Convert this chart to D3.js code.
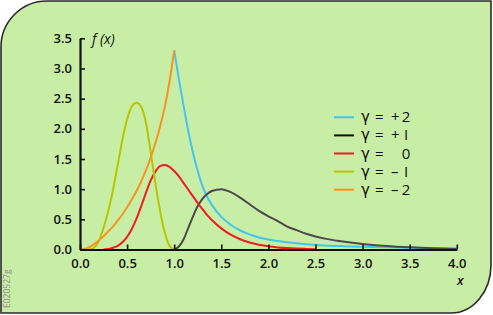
<!DOCTYPE html>
<html>
<head>
<meta charset="utf-8">
<script src="https://cdn.jsdelivr.net/npm/d3@7"></script>
<style>
  html, body { margin: 0; padding: 0; background: #fff; }
  svg { display: block; }
  text { font-family: 'Open Sans', 'Noto Sans', sans-serif; fill: #111; }
</style>
</head>
<body>
<div id="chart"></div>
<script>
// curve samples: [x, f(x)]
const gammaPlus2 = [
  [1.0, 3.3], [1.05, 2.82], [1.1, 2.38], [1.15, 1.96], [1.2, 1.6], [1.25, 1.3],
  [1.3, 1.05], [1.35, 0.87], [1.4, 0.74], [1.5, 0.54], [1.6, 0.41], [1.7, 0.315],
  [1.8, 0.25], [1.9, 0.2], [2.0, 0.165], [2.2, 0.12], [2.4, 0.088], [2.6, 0.068],
  [2.8, 0.055], [3.0, 0.045], [3.25, 0.036], [3.5, 0.028], [3.75, 0.022], [4.0, 0.018],
]
const gammaPlus1 = [
  [1.0, 0], [1.05, 0.05], [1.1, 0.17], [1.15, 0.36], [1.2, 0.55], [1.25, 0.72],
  [1.3, 0.84], [1.35, 0.92], [1.4, 0.97], [1.45, 0.99], [1.5, 1.0], [1.55, 0.98],
  [1.6, 0.95], [1.7, 0.86], [1.8, 0.75], [1.9, 0.64], [2.0, 0.55], [2.1, 0.47],
  [2.2, 0.38], [2.3, 0.32], [2.4, 0.26], [2.5, 0.215], [2.6, 0.18], [2.75, 0.14],
  [3.0, 0.09], [3.25, 0.058], [3.5, 0.036], [3.75, 0.02], [4.0, 0.01],
]
const gammaZero = [
  [0.25, 0], [0.3, 0.01], [0.35, 0.03], [0.4, 0.06], [0.45, 0.12], [0.5, 0.21],
  [0.55, 0.34], [0.6, 0.51], [0.65, 0.72], [0.7, 0.94], [0.75, 1.14], [0.8, 1.29],
  [0.85, 1.38], [0.9, 1.4], [0.95, 1.37], [1.0, 1.3], [1.05, 1.21], [1.1, 1.1],
  [1.15, 0.99], [1.2, 0.88], [1.25, 0.77], [1.3, 0.67], [1.35, 0.57], [1.4, 0.49],
  [1.5, 0.35], [1.6, 0.245], [1.7, 0.17], [1.8, 0.115], [1.9, 0.078], [2.0, 0.052],
  [2.1, 0.035], [2.2, 0.023], [2.3, 0.015], [2.4, 0.01], [2.5, 0.006],
]
const gammaMinus1 = [
  [0.1, 0], [0.15, 0.03], [0.2, 0.14], [0.25, 0.36], [0.3, 0.64], [0.35, 0.98],
  [0.4, 1.4], [0.45, 1.82], [0.5, 2.16], [0.55, 2.37], [0.6, 2.43], [0.65, 2.36],
  [0.7, 2.1], [0.75, 1.62], [0.8, 1.1], [0.85, 0.64], [0.9, 0.28], [0.95, 0.06], [1.0, 0],
]
const gammaMinus2 = [
  [0, 0], [0.05, 0.01], [0.1, 0.04], [0.15, 0.09], [0.2, 0.15], [0.25, 0.22],
  [0.3, 0.3], [0.35, 0.38], [0.4, 0.48], [0.45, 0.58], [0.5, 0.7], [0.55, 0.83],
  [0.6, 0.97], [0.65, 1.13], [0.7, 1.31], [0.75, 1.52], [0.8, 1.76], [0.85, 2.04],
  [0.9, 2.36], [0.95, 2.78], [1.0, 3.3],
]

const seriesSigns = ['+', '+', '', '\u2013', '\u2013']
const seriesDigits = ['2', 'I', '0', 'I', '2']
const seriesColors = ['#45c4f0', '#4a4a4a', '#ee1c25', '#b7c400', '#f7941d']
const legendColors = ['#45c4f0', '#111111', '#ee1c25', '#b7c400', '#f7941d']
const seriesData = [gammaPlus2, gammaPlus1, gammaZero, gammaMinus1, gammaMinus2]

const xTicks = [0, 0.5, 1, 1.5, 2, 2.5, 3, 3.5, 4]
const yTicks = [0, 0.5, 1, 1.5, 2, 2.5, 3, 3.5]

const width = 493
const height = 315

const svg = d3
  .select('#chart')
  .append('svg')
  .attr('width', width)
  .attr('height', height)

// panel with two rounded corners
svg
  .append('path')
  .attr('d', 'M1,47 A46,46 0 0 1 47,1 L491,1 L491,265 A40,48 0 0 1 451,313 L1,313 Z')
  .attr('fill', '#c8eea5')
  .attr('stroke', '#2a2a2a')
  .attr('stroke-width', 1.6)

const x = d3.scaleLinear().domain([0, 4]).range([80, 456.8])
const y = d3.scaleLinear().domain([0, 3.5]).range([249.5, 38.3])

const line = d3
  .line()
  .x((d) => x(d[0]))
  .y((d) => y(d[1]))
  .curve(d3.curveMonotoneX)

svg
  .append('g')
  .selectAll('path')
  .data(seriesData)
  .join('path')
  .attr('d', (d) => line(d))
  .attr('fill', 'none')
  .attr('stroke', (d, i) => seriesColors[i])
  .attr('stroke-width', 2)

const fmt = d3.format('.1f')

const xAxis = svg
  .append('g')
  .attr('transform', `translate(0,${y(0)})`)
  .call(d3.axisBottom(x).tickValues(xTicks).tickFormat(fmt).tickSizeInner(-5).tickSizeOuter(0).tickPadding(9))

const yAxis = svg
  .append('g')
  .attr('transform', `translate(${x(0)},0)`)
  .call(d3.axisLeft(y).tickValues(yTicks).tickFormat(fmt).tickSizeInner(-5).tickSizeOuter(0).tickPadding(8))

;[xAxis, yAxis].forEach((g) => {
  g.select('.domain').attr('stroke', '#111').attr('stroke-width', 2.2)
  g.selectAll('.tick line').attr('stroke', '#111').attr('stroke-width', 1.6)
  g.selectAll('.tick text')
    .attr('fill', '#111')
    .style('font-size', '13px')
    .style('font-weight', '600')
    .style('font-family', "'Open Sans', sans-serif")
})

svg
  .append('text')
  .attr('x', 92)
  .attr('y', 44)
  .style('font-size', '14px')
  .style('font-style', 'italic')
  .text('f (x)')

svg
  .append('text')
  .attr('x', 457)
  .attr('y', 285)
  .style('font-size', '13px')
  .style('font-style', 'italic')
  .style('font-weight', '600')
  .text('x')

// legend
const legend = svg
  .append('g')
  .selectAll('g')
  .data(seriesSigns)
  .join('g')
  .attr('transform', (d, i) => `translate(0,${117.3 + i * 18.1})`)

legend
  .append('line')
  .attr('x1', 334)
  .attr('x2', 354)
  .attr('stroke', (d, i) => legendColors[i])
  .attr('stroke-width', 2)

legend
  .append('text')
  .attr('x', 361)
  .attr('y', 5)
  .style('font-size', '15px')
  .style('font-family', "'DejaVu Sans', sans-serif")
  .text('\u03b3')

legend
  .append('text')
  .attr('x', 375)
  .attr('y', 5)
  .style('font-size', '15px')
  .text('=')

legend
  .append('text')
  .attr('x', 391)
  .attr('y', 5)
  .style('font-size', '15px')
  .text((d) => d)

legend
  .append('text')
  .attr('x', 406)
  .attr('y', 5)
  .attr('text-anchor', 'middle')
  .style('font-size', '15px')
  .text((d, i) => seriesDigits[i])

svg
  .append('text')
  .attr('transform', 'translate(10,308) rotate(-90)')
  .style('font-size', '8.5px')
  .style('fill', '#8a8a8a')
  .text('E020527g')
</script>
</body>
</html>
